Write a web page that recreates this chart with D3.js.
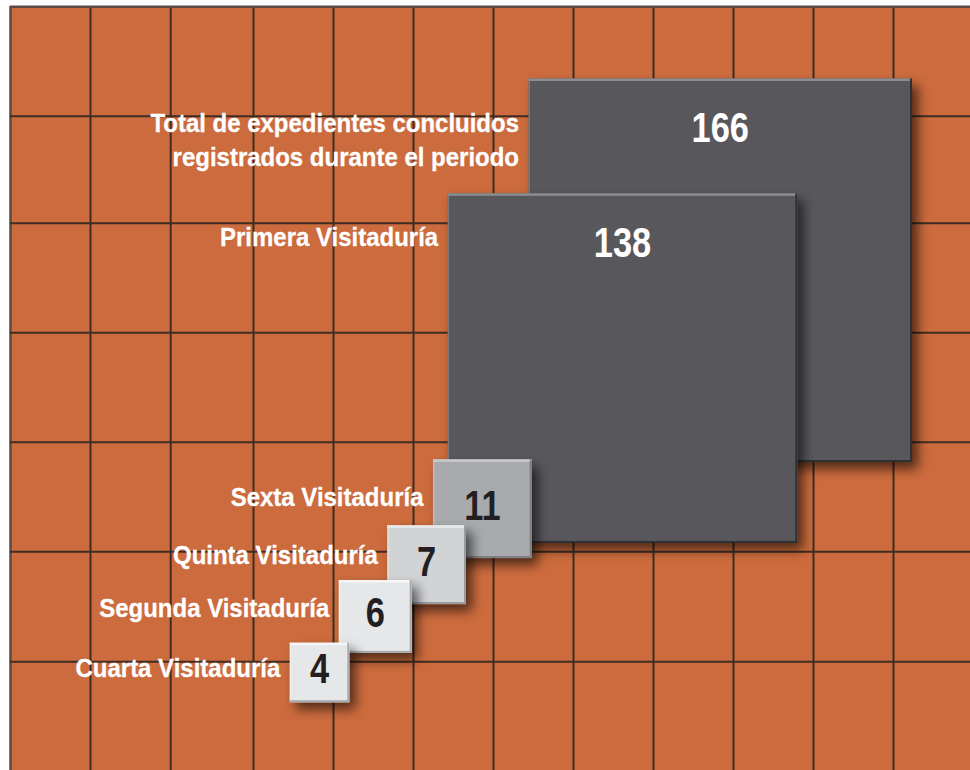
<!DOCTYPE html>
<html>
<head>
<meta charset="utf-8">
<script src="https://cdn.jsdelivr.net/npm/d3@7"></script>
<style>
  html, body { margin: 0; padding: 0; background: #ffffff; }
  svg { display: block; }
</style>
</head>
<body>
<div id="chart"></div>
<script>
// ---- data ----
const categories = [
  ["Total de expedientes concluidos", "registrados durante el periodo"],
  ["Primera Visitaduría"],
  ["Sexta Visitaduría"],
  ["Quinta Visitaduría"],
  ["Segunda Visitaduría"],
  ["Cuarta Visitaduría"]
];
const values = [166, 138, 11, 7, 6, 4];

// ---- layout (positions of the square corners, not data) ----
const rightEdge = [912, 797.3, 531.7, 466, 411.7, 349.3];
const topEdge   = [78.5, 193.3, 459.3, 525.3, 580, 642.7];
const labelBase = [132.3, 245.7, 506, 563.5, 617.3, 676.7];
const fills     = ["#58595b", "#58595b", "#a8aaad", "#d2d3d5", "#e6e7e8", "#e6e7e8"];
const topLight  = ["#8c8d8f", "#8c8d8f", "#c9cacc", "#e9eaeb", "#f6f6f7", "#f6f6f7"];
const edgeDark  = ["#2f3032", "#2f3032", "#7d7f82", "#9a9b9e", "#a7a9ac", "#a7a9ac"];
const numColor  = ["#ffffff", "#ffffff", "#231f20", "#231f20", "#231f20", "#231f20"];
const gridX = [10.5, 90.5, 170.7, 253.5, 333.5, 413.5, 493.5, 573.5, 653.5, 733.5, 813.5, 893.5];
const gridY = [6.7, 116.3, 223.3, 332.7, 442.3, 551.7, 661.7];

const W = 970, H = 770;
const svg = d3.select("#chart").append("svg").attr("width", W).attr("height", H);

const defs = svg.append("defs");
const f = defs.append("filter").attr("id", "shadow")
  .attr("x", "-20%").attr("y", "-20%").attr("width", "150%").attr("height", "150%");
f.append("feDropShadow").attr("dx", 6).attr("dy", 7).attr("stdDeviation", 6)
  .attr("flood-color", "#000").attr("flood-opacity", 0.6);

// background
svg.append("rect").attr("x", 10).attr("y", 6).attr("width", W - 10).attr("height", H - 6)
  .attr("fill", "#cc6b3d");

// grid
const gridG = svg.append("g");
gridG.selectAll("line.v").data(gridX).join("line").attr("class", "v")
  .attr("x1", d => d).attr("x2", d => d).attr("y1", 6).attr("y2", H)
  .attr("stroke", (d, i) => i === 0 ? "#5b4a42" : "#3f2c22").attr("stroke-width", (d, i) => i === 0 ? 2.5 : 2);
gridG.selectAll("line.h").data(gridY).join("line").attr("class", "h")
  .attr("x1", 10).attr("x2", W).attr("y1", d => d).attr("y2", d => d)
  .attr("stroke", (d, i) => i === 0 ? "#5b4a42" : "#3f2c22").attr("stroke-width", (d, i) => i === 0 ? 2.5 : 2);

// size scale: area proportional to value
const size = d3.scaleSqrt().domain([0, d3.max(values)]).range([0, 383.5]);

const items = values.map((v, i) => ({
  v, i, lines: categories[i],
  s: size(v),
  x: rightEdge[i] - size(v),
  y: topEdge[i]
}));

const sq = svg.selectAll("g.sq").data(items).join("g").attr("class", "sq");

sq.append("rect")
  .attr("x", d => d.x).attr("y", d => d.y).attr("width", d => d.s).attr("height", d => d.s)
  .attr("fill", d => fills[d.i]).attr("filter", "url(#shadow)");
// bevel edges
sq.append("rect").attr("x", d => d.x).attr("y", d => d.y).attr("width", d => d.s).attr("height", 2.5)
  .attr("fill", d => topLight[d.i]);
sq.append("rect").attr("x", d => d.x).attr("y", d => d.y).attr("width", 1.5).attr("height", d => d.s)
  .attr("fill", d => topLight[d.i]).attr("opacity", 0.6);
sq.append("rect").attr("x", d => d.x + d.s - 2).attr("y", d => d.y).attr("width", 2).attr("height", d => d.s)
  .attr("fill", d => edgeDark[d.i]);
sq.append("rect").attr("x", d => d.x).attr("y", d => d.y + d.s - 2).attr("width", d => d.s).attr("height", 2)
  .attr("fill", d => edgeDark[d.i]);

// numbers
sq.append("g")
  .attr("transform", d => {
    const cx = d.x + d.s / 2;
    const by = d.s > 200 ? d.y + 63.5 : d.y + d.s / 2 + 11;
    return `translate(${cx},${by}) scale(0.82,1)`;
  })
  .append("text")
  .attr("text-anchor", "middle")
  .attr("font-family", "'Liberation Sans', Arial, sans-serif")
  .attr("font-weight", "bold")
  .attr("font-size", 42)
  .attr("fill", d => numColor[d.i])
  .text(d => d.v);

// labels
sq.append("g")
  .attr("transform", d => `translate(${d.x - 9.5},${labelBase[d.i]}) scale(0.905,1)`)
  .append("text")
  .attr("text-anchor", "end")
  .attr("font-family", "'Liberation Sans', Arial, sans-serif")
  .attr("font-weight", "bold")
  .attr("font-size", 26.5)
  .attr("fill", "#ffffff")
  .attr("stroke", "#ffffff")
  .attr("stroke-width", 0.3)
  .selectAll("tspan").data(d => d.lines).join("tspan")
  .attr("x", 0).attr("dy", (d, j) => j === 0 ? 0 : 33.4)
  .text(d => d);
</script>
</body>
</html>
